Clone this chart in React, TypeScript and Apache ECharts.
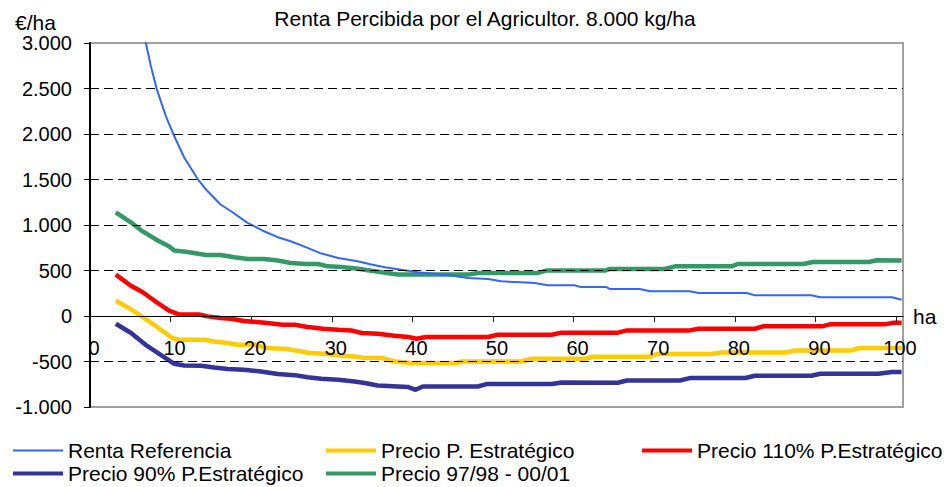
import React, { useEffect, useRef } from "react";
import * as echarts from "echarts";

const TITLE = "Renta Percibida por el Agricultor. 8.000 kg/ha";
const Y_UNIT = "€/ha";
const X_UNIT = "ha";

const SERIES_NAMES = [
  "Renta Referencia",
  "Precio P. Estratégico",
  "Precio 110% P.Estratégico",
  "Precio 90% P.Estratégico",
  "Precio 97/98 - 00/01",
];
const SERIES_COLORS = ["#3366ff", "#ffcc00", "#ff0000", "#333399", "#339966"];
const SERIES_WIDTHS = [2, 4.5, 4.5, 4.5, 4.5];

// [ha, €/ha]
const rentaReferencia: number[][] = [
  [3.2, 6500], [5.1, 4080], [6.1, 3410], [6.93, 3000], [7.55, 2747], [8.26, 2499],
  [9.41, 2197], [10.37, 1992], [11.7, 1739], [13.35, 1508], [14.4, 1390], [16.2, 1225],
  [17.5, 1151], [19.55, 1024], [21.6, 931], [23.5, 859], [24.9, 821], [27, 748],
  [28.5, 693], [30.8, 638], [33.2, 601], [34.9, 565], [36.6, 535], [39.0, 502],
  [40.7, 480], [42.4, 466], [44.8, 444], [46.9, 418], [49.4, 407], [51.0, 381],
  [53.5, 370], [55.2, 363], [56.8, 337], [60.1, 337], [60.8, 320], [64.0, 320],
  [64.5, 297], [68.2, 297], [69.5, 271], [74.4, 271], [75.5, 253], [81.5, 253],
  [82.5, 227], [89.5, 227], [90.6, 205], [99.5, 205], [100.7, 179],
];

const precioEstrategico: number[][] = [
  [3.2, 170], [5.1, 73], [6.9, -33], [8.8, -151], [10.2, -242], [11.1, -261],
  [14.2, -261], [15.4, -280], [17.1, -297], [18.3, -316], [20.4, -316], [22, -352],
  [24.5, -363], [25.4, -378], [27.3, -407], [29.1, -415], [31.2, -437], [32.8, -444],
  [34.1, -462], [36.2, -462], [37.8, -500], [39.9, -517], [45.3, -517], [46.1, -500],
  [53.5, -500], [54.8, -470], [61.4, -470], [62.4, -448], [69.5, -448], [70.3, -418],
  [77.1, -418], [78.4, -400], [86.4, -400], [87.5, -378], [94.5, -378], [95.5, -352],
  [100.7, -352],
];

const precio110: number[][] = [
  [3.2, 455], [5.07, 333], [6.5, 264], [8.4, 143], [9.8, 58], [11.1, 16],
  [13.5, 16], [14.6, -4], [16.2, -22], [17.5, -30], [19.1, -55], [22, -77],
  [23.9, -96], [25.4, -96], [26.8, -118], [28.9, -140], [30.8, -151], [32.4, -158],
  [33.7, -187], [35.7, -195], [37.8, -217], [39.5, -231], [40.5, -250], [41.7, -231],
  [49.4, -231], [50.6, -206], [57.3, -206], [58.5, -183], [65.5, -183], [66.6, -158],
  [74.4, -158], [75.5, -140], [82.5, -140], [83.5, -114], [90.8, -114], [91.8, -92],
  [98.6, -92], [99.7, -74], [100.7, -74],
];

const precio90: number[][] = [
  [3.2, -85], [5.1, -187], [6.9, -316], [9.2, -451], [10.45, -525], [11.7, -544],
  [13.8, -547], [15.4, -566], [17.1, -583], [19.1, -591], [21.2, -610], [23.3, -638],
  [25.4, -650], [27, -673], [28.7, -690], [30.8, -701], [32.8, -720], [34.1, -737],
  [35.7, -764], [38.2, -775], [39.5, -781], [40.4, -811], [41.3, -775], [48.1, -775],
  [49.2, -748], [57.3, -748], [58.5, -730], [65.5, -733], [66.6, -709], [73.2, -709],
  [74.4, -682], [81.3, -682], [82.5, -657], [89.5, -657], [90.6, -635], [97.8, -635],
  [99.5, -616], [100.7, -616],
];

const precio9798: number[][] = [
  [3.2, 1140], [5.07, 1030], [6.5, 932], [8.4, 830], [9.8, 766], [10.45, 719],
  [12.1, 704], [14.4, 671], [16.2, 671], [17.9, 645], [19.6, 627], [21.6, 627],
  [23.3, 609], [24.9, 583], [26.8, 572], [28.3, 572], [29.5, 546], [31.2, 539],
  [33.0, 521], [34.5, 502], [36.2, 480], [38.2, 455], [46.9, 455], [48.1, 473],
  [55.6, 473], [56.6, 499], [63.9, 499], [64.5, 517], [71.3, 517], [72.6, 546],
  [79.6, 546], [80.4, 572], [88.5, 572], [89.7, 594], [96.6, 594], [97.6, 612],
  [100.7, 609],
];

const SERIES_DATA = [rentaReferencia, precioEstrategico, precio110, precio90, precio9798];

const FONT = '"Liberation Sans", Arial, sans-serif';

function fmtThousands(v: number): string {
  const neg = v < 0;
  const s = String(Math.round(Math.abs(v)));
  const withDots = s.replace(/\B(?=(\d{3})+(?!\d))/g, ".");
  return (neg ? "-" : "") + withDots;
}

export default function App() {
  const ref = useRef<HTMLDivElement>(null);
  useEffect(() => {
    if (!ref.current) return;
    const chart = echarts.init(ref.current, undefined, { renderer: "svg" });

    const legendPos = [
      { left: 13, top: 440 },
      { left: 326, top: 440 },
      { left: 642, top: 440 },
      { left: 13, top: 463 },
      { left: 326, top: 463 },
    ];

    const option: any = {
      animation: false,
      backgroundColor: "#ffffff",
      title: [
        {
          text: TITLE,
          left: 480,
          top: 3,
          textAlign: "center",
          textStyle: { fontFamily: FONT, fontSize: 21, fontWeight: "normal", color: "#000" },
        },
        {
          text: Y_UNIT,
          left: 10,
          top: 7,
          textStyle: { fontFamily: FONT, fontSize: 21, fontWeight: "normal", color: "#000" },
        },
      ],
      legend: SERIES_NAMES.map((name, i) => ({
        data: [name],
        left: legendPos[i].left,
        top: legendPos[i].top,
        icon: "rect",
        itemWidth: 50,
        itemHeight: i === 0 ? 2 : 4,
        itemGap: 5,
        selectedMode: false,
        padding: 0,
        textStyle: { fontFamily: FONT, fontSize: 21, color: "#000" },
      })),
      grid: {
        left: 90,
        right: 49,
        top: 43,
        bottom: 80,
        show: true,
        borderColor: "#a0a0a0",
        borderWidth: 2,
        backgroundColor: "transparent",
      },
      xAxis: {
        type: "value",
        position: "bottom",
        offset: -91,
        z: 10,
        min: 0,
        max: 100.87,
        interval: 10,
        name: X_UNIT,
        nameLocation: "end",
        nameGap: 10,
        nameTextStyle: {
          fontFamily: FONT,
          fontSize: 21,
          color: "#000",
          verticalAlign: "middle",
          padding: [10, 0, 0, 0],
        },
        axisLine: { show: true, onZero: false, lineStyle: { color: "#000", width: 1 } },
        axisTick: {
          show: true,
          inside: false,
          length: 6,
          lineStyle: { color: "#222", width: 1 },
        },
        axisLabel: {
          show: true,
          margin: 22,
          fontFamily: FONT,
          fontSize: 20,
          color: "#000",
          padding: [0, 0, 0, 8],
          showMaxLabel: false,
          formatter: (v: number) => (Math.abs(v % 10) < 1e-6 ? String(v) : ""),
        },
        splitLine: { show: false },
      },
      yAxis: {
        type: "value",
        z: 10,
        min: -1000,
        max: 3000,
        interval: 500,
        axisLine: { show: true, onZero: false, lineStyle: { color: "#000", width: 2 } },
        axisTick: { show: true, inside: false, length: 6, lineStyle: { color: "#000", width: 1 } },
        axisLabel: {
          margin: 18,
          fontFamily: FONT,
          fontSize: 20,
          color: "#000",
          formatter: (v: number) => fmtThousands(v),
        },
        splitLine: {
          show: true,
          showMinLine: false,
          showMaxLine: false,
          lineStyle: { color: "#000", width: 1, type: [9, 5] },
        },
      },
      series: SERIES_NAMES.map((name, i) => ({
        name,
        type: "line",
        data: SERIES_DATA[i],
        showSymbol: false,
        symbol: "none",
        clip: true,
        color: SERIES_COLORS[i],
        itemStyle: { color: SERIES_COLORS[i] },
        lineStyle: { color: SERIES_COLORS[i], width: SERIES_WIDTHS[i] },
        z: i === 0 ? 3 : 2,
      })),
    };

    chart.setOption(option);
    return () => chart.dispose();
  }, []);

  return (
    <div
      ref={ref}
      style={{ position: "fixed", left: 0, top: 0, width: 952, height: 487 }}
    />
  );
}
